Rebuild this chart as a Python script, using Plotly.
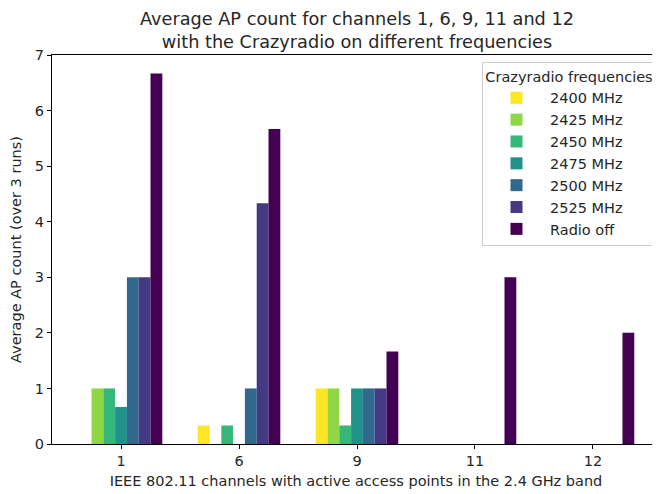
import plotly.graph_objects as go

channels = ["1", "6", "9", "11", "12"]
series_names = ["2400 MHz", "2425 MHz", "2450 MHz", "2475 MHz", "2500 MHz", "2525 MHz", "Radio off"]
colors = ["#fde725", "#8fd744", "#35b779", "#21918c", "#31688e", "#443983", "#440154"]

v2400 = [0, 1/3, 1, 0, 0]
v2425 = [1, 0, 1, 0, 0]
v2450 = [1, 1/3, 1/3, 0, 0]
v2475 = [2/3, 0, 1, 0, 0]
v2500 = [3, 1, 1, 0, 0]
v2525 = [3, 13/3, 1, 0, 0]
voff = [20/3, 17/3, 5/3, 3, 2]
values = [v2400, v2425, v2450, v2475, v2500, v2525, voff]

xpos = list(range(len(channels)))
FONT = "DejaVu Sans"
FS = 14.5

fig = go.Figure()
for name, col, vals in zip(series_names, colors, values):
    fig.add_trace(go.Bar(x=xpos, y=vals, name=name, marker=dict(color=col, line=dict(width=0))))

fig.update_layout(
    width=660, height=494,
    margin=dict(l=44, r=8, t=47, b=57.5, autoexpand=False),
    paper_bgcolor="white", plot_bgcolor="white",
    barmode="group", bargap=0.3, bargroupgap=0,
    font=dict(family=FONT, size=FS, color="#262626"),
    title=dict(text="Average AP count for channels 1, 6, 9, 11 and 12<br>with the Crazyradio on different frequencies",
               x=(357 - 8) / 660, xref="container", xanchor="center",
               y=1 - 16.5 / 494, yref="container", yanchor="middle",
               font=dict(family=FONT, size=17.7, color="#262626")),
    xaxis=dict(range=[-0.585, 4.568], tickvals=xpos, ticktext=channels,
               showline=True, linecolor="black", linewidth=1, mirror=True,
               ticks="outside", ticklen=4, tickcolor="black", showgrid=False, zeroline=False,
               automargin=True,
               title=dict(text="IEEE 802.11 channels with active access points in the 2.4 GHz band",
                          font=dict(size=FS), standoff=7)),
    yaxis=dict(range=[0, 7], dtick=1, showline=True, linecolor="black", linewidth=1,
               ticks="outside", ticklen=4, tickcolor="black", showgrid=False, zeroline=False,
               automargin=False,
               title=dict(text="Average AP count (over 3 runs)", font=dict(size=FS), standoff=16)),
    legend=dict(x=0.9934, xanchor="right", y=0.982, yanchor="top",
                bgcolor="rgba(255,255,255,0.8)", bordercolor="#cccccc", borderwidth=1,
                title=dict(text="Crazyradio frequencies", side="top center", font=dict(size=FS)),
                font=dict(size=FS), tracegroupgap=0, itemwidth=57),
)

fig.write_html("out.html")
